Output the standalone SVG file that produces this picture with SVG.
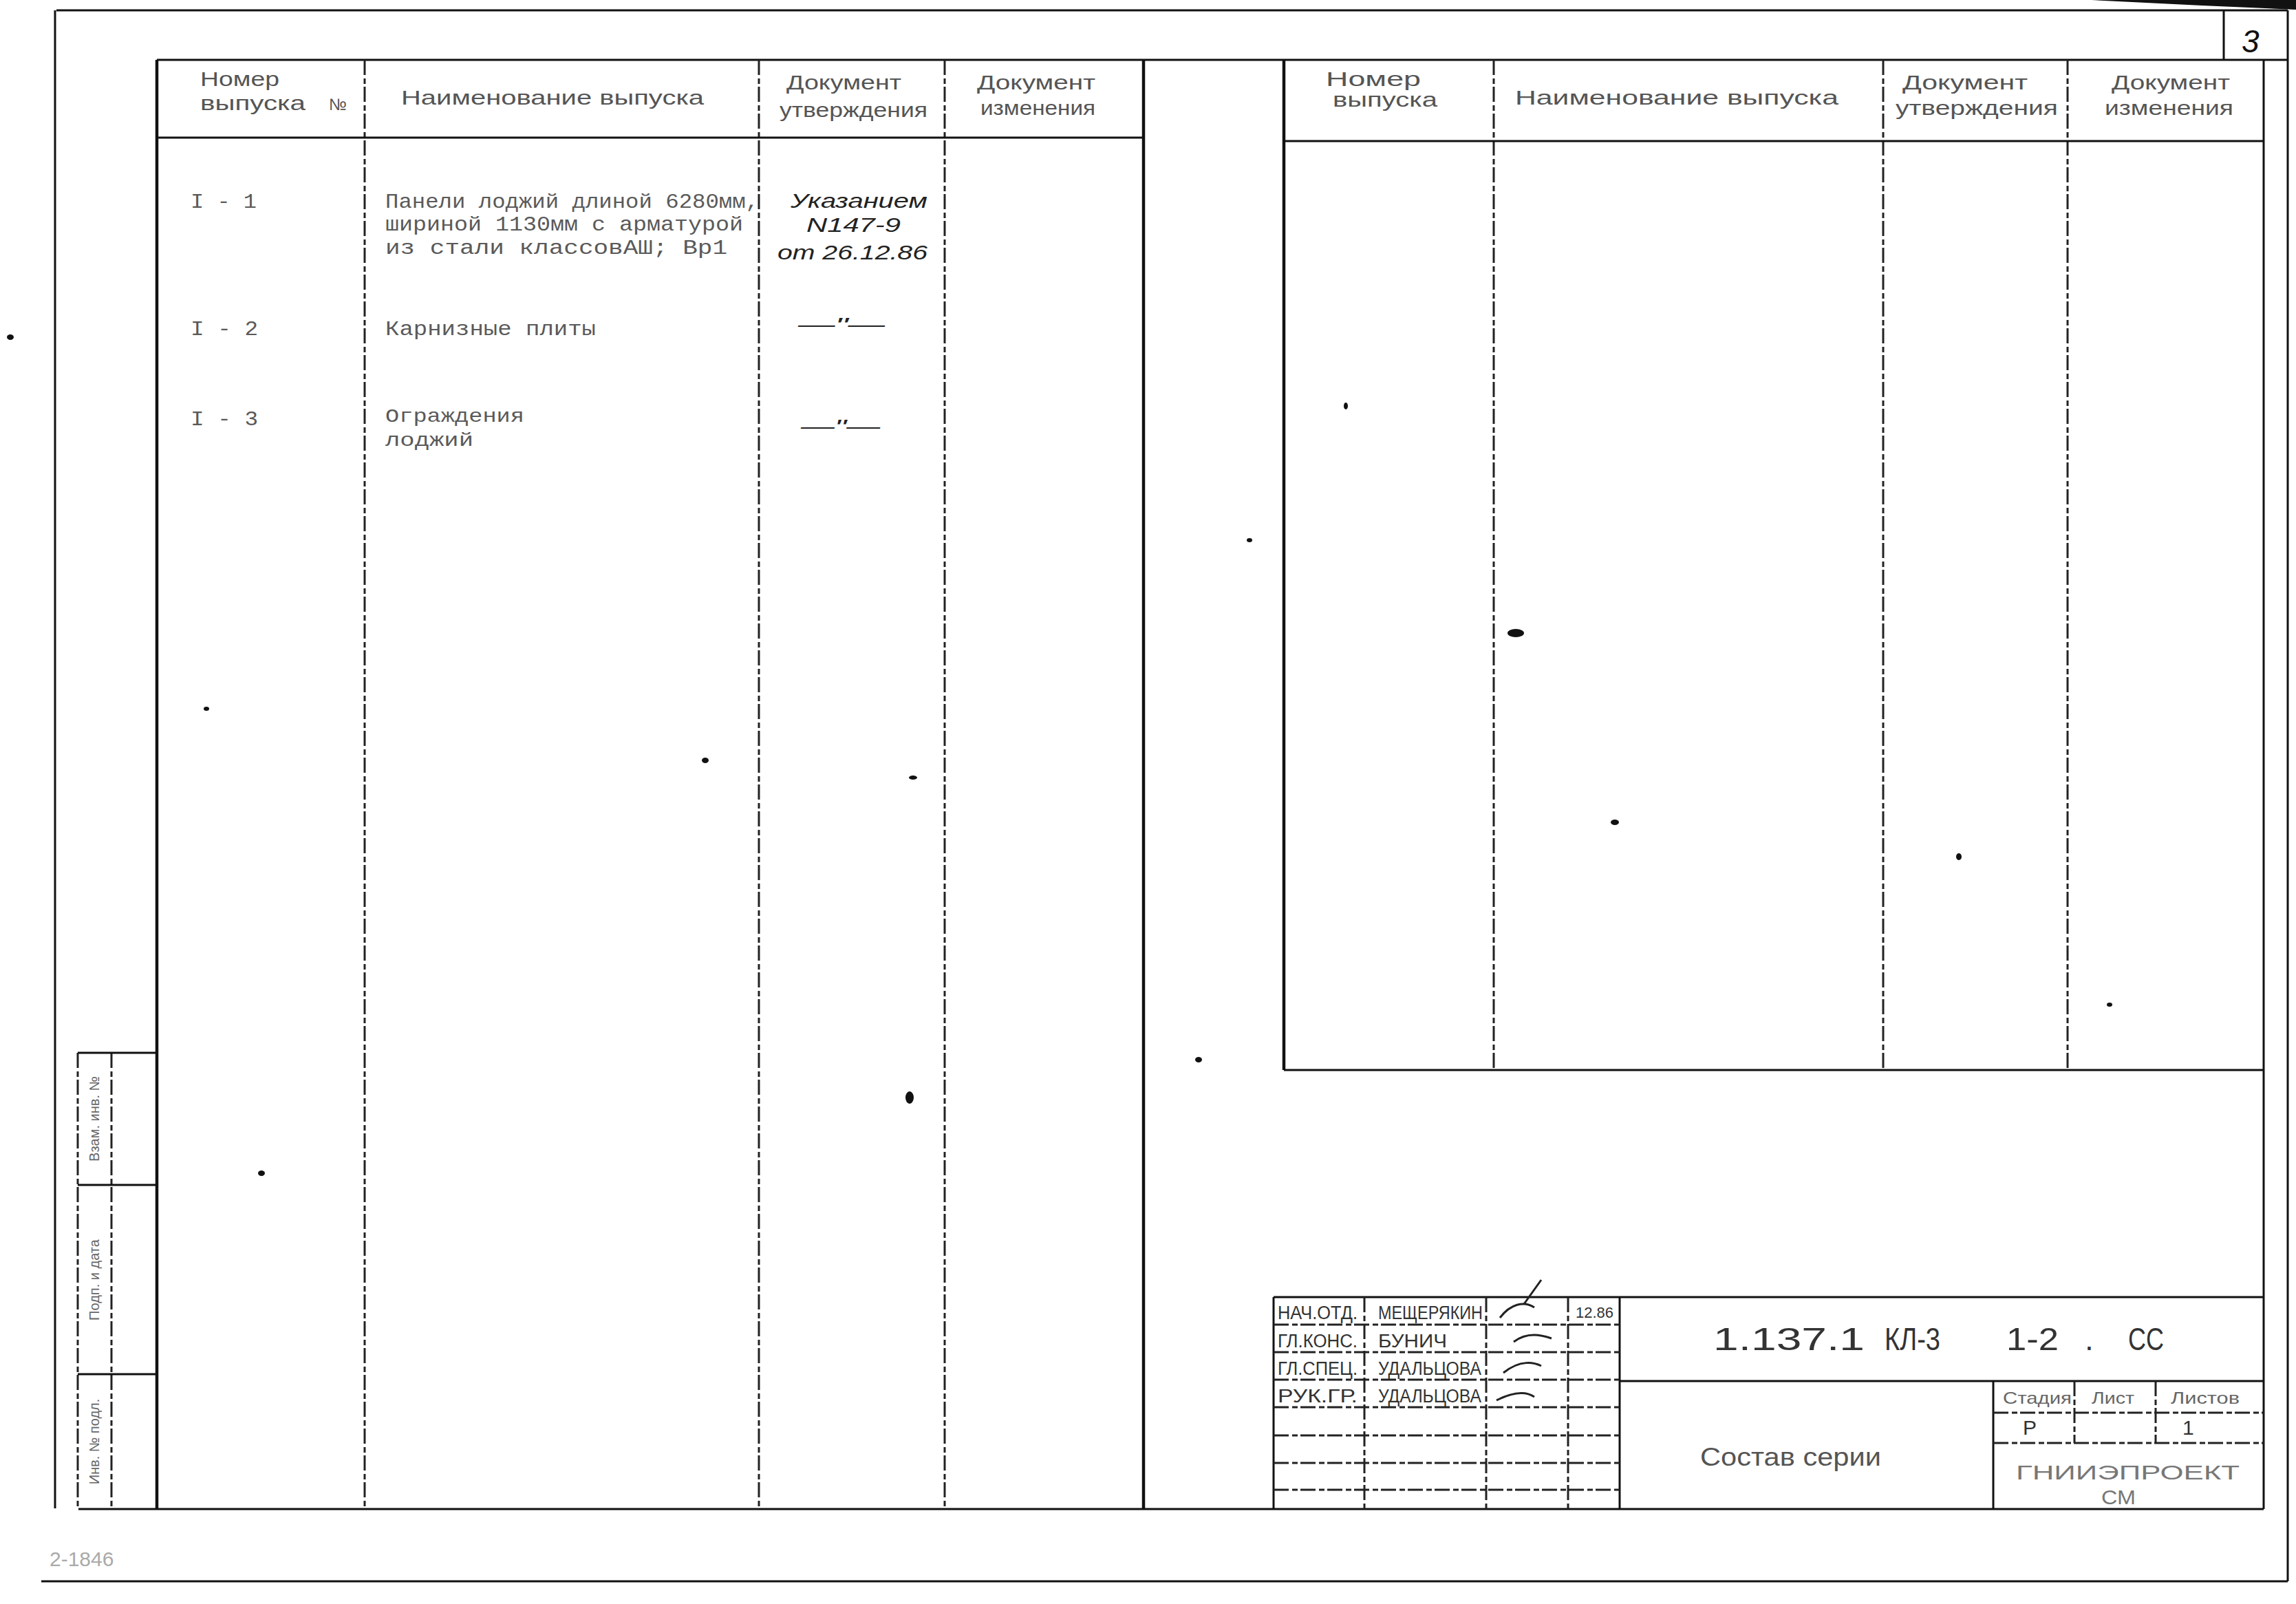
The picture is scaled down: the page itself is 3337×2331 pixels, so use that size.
<svg xmlns="http://www.w3.org/2000/svg" width="3337" height="2331" viewBox="0 0 3337 2331">
<style>
.ln{stroke:#111;stroke-width:3;fill:none}
.thk{stroke:#111;stroke-width:4.5;fill:none}
.dsh{stroke:#222;stroke-width:3;fill:none;stroke-dasharray:22 5 8 4}
.hd{font-family:"Liberation Sans",Arial,sans-serif;font-size:30px;fill:#555}
.tw{font-family:"Liberation Mono","Courier New",monospace;font-size:30px;fill:#5a5a5a}
.hw{font-family:"Liberation Sans",Arial,sans-serif;font-style:italic;font-size:30px;fill:#222}
.tb{font-family:"Liberation Sans",Arial,sans-serif;font-size:27px;fill:#333}
.code{font-family:"Liberation Sans",Arial,sans-serif;font-size:46px;fill:#333}
.st{font-family:"Liberation Sans",Arial,sans-serif;font-size:20px;fill:#666}
.mg{font-family:"Liberation Sans",Arial,sans-serif;font-size:30px;fill:#aaa}
.sp{fill:#111}
</style>
<rect width="3337" height="2331" fill="#fff"/>

<g id="frame">
  <path class="ln" d="M82 15H3325M80 15V2192M3325 15V2298M60 2298H3325"/>
  <path class="ln" d="M228 87H3325M114 2193H3290M3290 87V2193M3232 15V87"/>
  <polygon points="3040,0 3337,0 3337,14 3200,8" fill="#111"/>
  <text x="3258" y="76" font-family="Liberation Sans, Arial, sans-serif" font-style="italic" font-size="46" fill="#111">3</text>
</g>

<g id="stamp-strip">
  <path class="dsh" d="M113 1530V2193M162 1530V2193"/>
  <path class="ln" d="M113 1530H228M113 1722H228M113 1997H228"/>
  <text class="st" transform="translate(144,1626) rotate(-90)" text-anchor="middle">Взам. инв. №</text>
  <text class="st" transform="translate(144,1860) rotate(-90)" text-anchor="middle">Подп. и дата</text>
  <text class="st" transform="translate(144,2095) rotate(-90)" text-anchor="middle">Инв. № подл.</text>
</g>

<g id="left-table">
  <path class="thk" d="M228 87V2193"/>
  <path class="dsh" d="M530 87V2193M1103 87V2193M1373 87V2193"/>
  <path class="thk" d="M1662 87V2193"/>
  <path class="ln" d="M228 200H1662"/>
  <text class="hd" x="291" y="125" textLength="115" lengthAdjust="spacingAndGlyphs">Номер</text>
  <text class="hd" x="291" y="160" textLength="153" lengthAdjust="spacingAndGlyphs">выпуска</text>
  <text class="hd" x="478" y="160" style="font-size:24px">№</text>
  <text class="hd" x="583" y="152" textLength="440" lengthAdjust="spacingAndGlyphs">Наименование  выпуска</text>
  <text class="hd" x="1143" y="130" textLength="167" lengthAdjust="spacingAndGlyphs">Документ</text>
  <text class="hd" x="1133" y="170" textLength="215" lengthAdjust="spacingAndGlyphs">утверждения</text>
  <text class="hd" x="1420" y="130" textLength="172" lengthAdjust="spacingAndGlyphs">Документ</text>
  <text class="hd" x="1425" y="167" textLength="167" lengthAdjust="spacingAndGlyphs">изменения</text>

  <text class="tw" x="277" y="302" textLength="96" lengthAdjust="spacingAndGlyphs">I - 1</text>
  <text class="tw" x="560" y="302" textLength="543" lengthAdjust="spacingAndGlyphs">Панели лоджий длиной 6280мм,</text>
  <text class="tw" x="560" y="335" textLength="520" lengthAdjust="spacingAndGlyphs">шириной 1130мм с арматурой</text>
  <text class="tw" x="560" y="369" textLength="497" lengthAdjust="spacingAndGlyphs">из стали классовАШ; Вр1</text>
  <text class="hw" x="1149" y="302" textLength="199" lengthAdjust="spacingAndGlyphs">Указанием</text>
  <text class="hw" x="1172" y="337" textLength="137" lengthAdjust="spacingAndGlyphs">N147-9</text>
  <text class="hw" x="1130" y="377" textLength="218" lengthAdjust="spacingAndGlyphs">от 26.12.86</text>

  <text class="tw" x="277" y="487" textLength="98" lengthAdjust="spacingAndGlyphs">I - 2</text>
  <text class="tw" x="560" y="487" textLength="306" lengthAdjust="spacingAndGlyphs">Карнизные плиты</text>
  <text class="hw" x="1160" y="482" textLength="126" lengthAdjust="spacingAndGlyphs">—"—</text>

  <text class="tw" x="277" y="618" textLength="98" lengthAdjust="spacingAndGlyphs">I - 3</text>
  <text class="tw" x="560" y="613" style="font-size:28px" textLength="202" lengthAdjust="spacingAndGlyphs">Ограждения</text>
  <text class="tw" x="560" y="648" style="font-size:28px" textLength="128" lengthAdjust="spacingAndGlyphs">лоджий</text>
  <text class="hw" x="1164" y="630" textLength="115" lengthAdjust="spacingAndGlyphs">—"—</text>
</g>

<g id="right-table">
  <path class="thk" d="M1866 87V1555"/>
  <path class="dsh" d="M2171 87V1555M2737 87V1555M3005 87V1555"/>
  <path class="ln" d="M1866 205H3290M1866 1555H3290"/>
  <text class="hd" x="1927" y="125" textLength="138" lengthAdjust="spacingAndGlyphs">Номер</text>
  <text class="hd" x="1937" y="155" textLength="152" lengthAdjust="spacingAndGlyphs">выпуска</text>
  <text class="hd" x="2202" y="152" textLength="470" lengthAdjust="spacingAndGlyphs">Наименование  выпуска</text>
  <text class="hd" x="2765" y="130" textLength="182" lengthAdjust="spacingAndGlyphs">Документ</text>
  <text class="hd" x="2755" y="167" textLength="236" lengthAdjust="spacingAndGlyphs">утверждения</text>
  <text class="hd" x="3069" y="130" textLength="172" lengthAdjust="spacingAndGlyphs">Документ</text>
  <text class="hd" x="3059" y="167" textLength="187" lengthAdjust="spacingAndGlyphs">изменения</text>
</g>

<g id="title-block">
  <path class="ln" d="M1851 1885H3290M1851 1885V2193M2354 1885V2193"/>
  <path class="dsh" d="M1983 1885V2193M2160 1885V2193M2279 1885V2193"/>
  <path class="dsh" d="M1851 1925H2354M1851 1965H2354M1851 2005H2354M1851 2045H2354M1851 2086H2354M1851 2126H2354M1851 2165H2354"/>
  <path class="ln" d="M2354 2007H3290M2897 2007V2193"/>
  <path class="dsh" d="M2897 2053H3290M2897 2097H3290M3015 2007V2097M3133 2007V2097"/>
  <text class="tb" x="1857" y="1917" textLength="116" lengthAdjust="spacingAndGlyphs">НАЧ.ОТД.</text>
  <text class="tb" x="2003" y="1917" textLength="152" lengthAdjust="spacingAndGlyphs">МЕЩЕРЯКИН</text>
  <text class="tb" x="1857" y="1958" textLength="116" lengthAdjust="spacingAndGlyphs">ГЛ.КОНС.</text>
  <text class="tb" x="2003" y="1958" textLength="100" lengthAdjust="spacingAndGlyphs">БУНИЧ</text>
  <text class="tb" x="1857" y="1998" textLength="116" lengthAdjust="spacingAndGlyphs">ГЛ.СПЕЦ.</text>
  <text class="tb" x="2003" y="1998" textLength="150" lengthAdjust="spacingAndGlyphs">УДАЛЬЦОВА</text>
  <text class="tb" x="1857" y="2038" textLength="116" lengthAdjust="spacingAndGlyphs">РУК.ГР.</text>
  <text class="tb" x="2003" y="2038" textLength="150" lengthAdjust="spacingAndGlyphs">УДАЛЬЦОВА</text>
  <text class="tb" x="2290" y="1915" style="font-size:22px" textLength="55" lengthAdjust="spacingAndGlyphs">12.86</text>
  <path d="M2180 1915c15-20 35-25 50-15M2200 1950c20-15 40-10 55-5M2185 1995c25-20 45-15 55-10M2175 2035c20-10 40-15 55-5M2215 1895l25-35" stroke="#222" stroke-width="3" fill="none"/>

  <text class="code" x="2490" y="1962" textLength="220" lengthAdjust="spacingAndGlyphs">1.137.1</text>
  <text class="code" x="2739" y="1962" textLength="81" lengthAdjust="spacingAndGlyphs">КЛ-3</text>
  <text class="code" x="2916" y="1962" textLength="76" lengthAdjust="spacingAndGlyphs">1-2</text>
  <text class="code" x="3030" y="1962">.</text>
  <text class="code" x="3093" y="1962" textLength="52" lengthAdjust="spacingAndGlyphs">СС</text>
  <text class="code" x="2471" y="2130" style="font-size:36px;fill:#555" textLength="263" lengthAdjust="spacingAndGlyphs">Состав серии</text>
  <text class="tb" x="2911" y="2040" style="font-size:24px;fill:#666" textLength="100" lengthAdjust="spacingAndGlyphs">Стадия</text>
  <text class="tb" x="3040" y="2040" style="font-size:24px;fill:#666" textLength="62" lengthAdjust="spacingAndGlyphs">Лист</text>
  <text class="tb" x="3155" y="2040" style="font-size:24px;fill:#666" textLength="100" lengthAdjust="spacingAndGlyphs">Листов</text>
  <text class="tb" x="2940" y="2085" style="font-size:30px">Р</text>
  <text class="tb" x="3172" y="2085" style="font-size:30px">1</text>
  <text class="tb" x="2930" y="2150" style="font-size:30px;fill:#777" textLength="325" lengthAdjust="spacingAndGlyphs">ГНИИЭПРОЕКТ</text>
  <text class="tb" x="3054" y="2186" style="font-size:30px;fill:#777" textLength="50" lengthAdjust="spacingAndGlyphs">СМ</text>
</g>

<g id="margin-text">
  <text class="mg" x="72" y="2276">2-1846</text>
</g>

<g id="specks">
  <ellipse class="sp" cx="2203" cy="920" rx="12" ry="6"/>
  <ellipse class="sp" cx="1322" cy="1595" rx="6" ry="9"/>
  <ellipse class="sp" cx="2347" cy="1195" rx="6" ry="4"/>
  <ellipse class="sp" cx="1025" cy="1105" rx="5" ry="4"/>
  <ellipse class="sp" cx="1742" cy="1540" rx="5" ry="4"/>
  <ellipse class="sp" cx="380" cy="1705" rx="5" ry="4"/>
  <ellipse class="sp" cx="300" cy="1030" rx="4" ry="3"/>
  <ellipse class="sp" cx="1327" cy="1130" rx="6" ry="3"/>
  <ellipse class="sp" cx="1956" cy="590" rx="3" ry="5"/>
  <ellipse class="sp" cx="1816" cy="785" rx="4" ry="3"/>
  <ellipse class="sp" cx="3066" cy="1460" rx="4" ry="3"/>
  <ellipse class="sp" cx="2847" cy="1245" rx="4" ry="5"/>
  <ellipse class="sp" cx="15" cy="490" rx="5" ry="4"/>
</g>
</svg>
